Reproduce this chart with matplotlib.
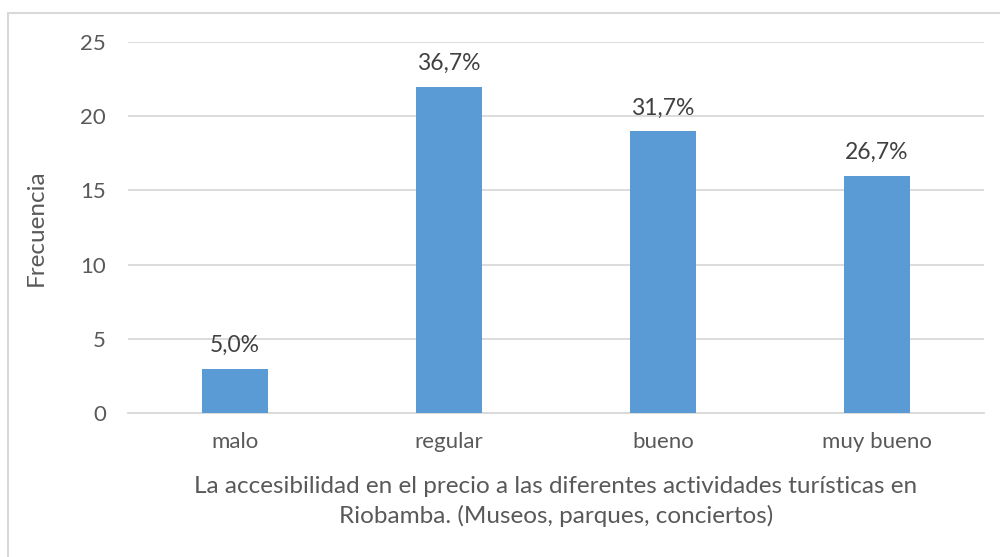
import matplotlib
matplotlib.use("Agg")
import matplotlib.pyplot as plt
from matplotlib.patches import Rectangle

categories = ["malo", "regular", "bueno", "muy bueno"]
frecuencia = [3, 22, 19, 16]
porcentajes = ["5,0%", "36,7%", "31,7%", "26,7%"]
yticks = [0, 5, 10, 15, 20, 25]

plt.rcParams["font.family"] = ["Lato", "DejaVu Sans"]
text_color = "#595959"
bar_color = "#5B9BD5"
grid_color = "#D9D9D9"

fig = plt.figure(figsize=(10, 5.57), dpi=100)
ax = fig.add_axes([0.128, 0.2585, 0.856, 0.666])

x = list(range(len(categories)))
ax.bar(x, frecuencia, width=0.31, color=bar_color, zorder=3)
for xi, v, lab in zip(x, frecuencia, porcentajes):
    ax.annotate(lab, (xi, v), xytext=(0, 9), textcoords="offset points",
                ha="center", va="bottom", fontsize=16.5, color="#404040")

ax.set_xlim(-0.5, len(categories) - 0.5)
ax.set_ylim(0, 25)
ax.set_yticks(yticks)
ax.set_yticklabels([str(t) for t in yticks])
ax.set_xticks(x)
ax.set_xticklabels(categories)
ax.yaxis.grid(True, color=grid_color, linewidth=1.3, zorder=0)
ax.tick_params(axis="both", length=0, labelsize=16, colors=text_color)
ax.tick_params(axis="y", pad=16)
ax.tick_params(axis="x", pad=14)
for side in ["top", "right", "left"]:
    ax.spines[side].set_visible(False)
ax.spines["bottom"].set_color(grid_color)
ax.spines["bottom"].set_linewidth(1.3)

ax.set_ylabel("Frecuencia", fontsize=17.5, color=text_color, labelpad=24)
ax.set_xlabel("La accesibilidad en el precio a las diferentes actividades turísticas en\n"
              "Riobamba. (Museos, parques, conciertos)",
              fontsize=17.5, color=text_color, labelpad=17, linespacing=1.45)

fig.patches.append(Rectangle((0.0075, -0.1), 1.1, 0.9775 + 0.1, transform=fig.transFigure,
                             fill=False, edgecolor=grid_color, linewidth=1.5))

fig.savefig("out.png", dpi=100)
